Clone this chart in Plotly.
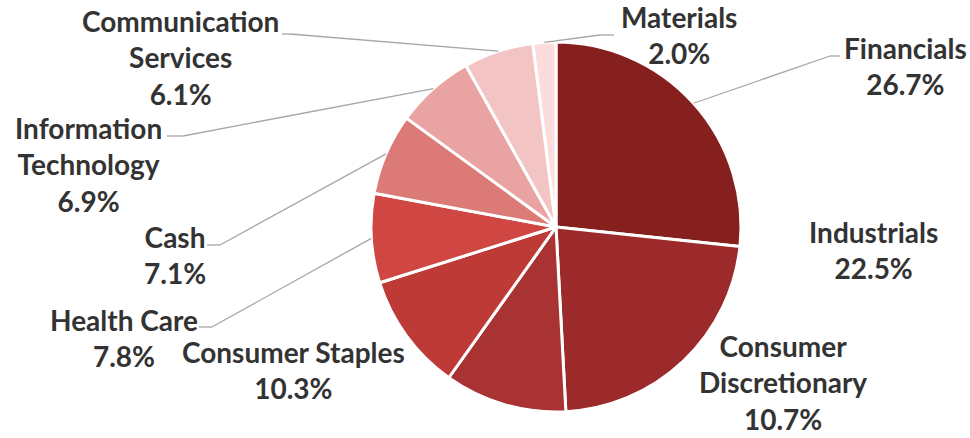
import math
import plotly.graph_objects as go

# ---- data ----
sectors = ["Financials", "Industrials", "Consumer Discretionary", "Consumer Staples",
           "Health Care", "Cash", "Information Technology", "Communication Services", "Materials"]
weights = [26.7, 22.5, 10.7, 10.3, 7.8, 7.1, 6.9, 6.1, 2.0]
label_text = ["Financials", "Industrials", "Consumer<br>Discretionary", "Consumer Staples",
              "Health Care", "Cash", "Information<br>Technology", "Communication<br>Services", "Materials"]
colors = ["#85201F", "#9C2A2A", "#A93232", "#BD3A37", "#CF4642",
          "#DB7A77", "#E8A3A2", "#F3C4C4", "#FCDCDC"]

W, H = 970, 438
CX, CY, R = 556, 227, 185

def px(x):
    return x / W

def py(y):
    return 1 - y / H

# label block centres (pixels)
label_pos = {
    "Financials": (905, 66),
    "Industrials": (873, 250),
    "Consumer Discretionary": (783, 382),
    "Consumer Staples": (293, 370),
    "Health Care": (124, 338),
    "Cash": (175, 255),
    "Information Technology": (88, 165),
    "Communication Services": (180, 58),
    "Materials": (679, 35),
}
# leader line starts and elbows (pixels)
leaders = {
    "Financials": [(840, 56), (830, 56)],
    "Health Care": [(199, 327), (212, 327)],
    "Cash": [(207, 245), (220, 245)],
    "Information Technology": [(167, 136), (183, 136)],
    "Communication Services": [(282, 34), (290, 34)],
    "Materials": [(614, 35), (600, 35)],
}

fig = go.Figure(go.Pie(
    labels=sectors, values=weights, sort=False, direction="clockwise", rotation=0,
    marker=dict(colors=colors, line=dict(color="white", width=3)),
    textinfo="none", hoverinfo="label+percent", showlegend=False,
    domain=dict(x=[px(CX - R), px(CX + R)], y=[py(CY + R), py(CY - R)]),
))

total = sum(weights)
cum = 0.0
annotations = []
shapes = []
for name, v, txt in zip(sectors, weights, label_text):
    mid = (cum + v / 2) / total * 2 * math.pi
    cum += v
    ax = CX + R * math.sin(mid)
    ay = CY - R * math.cos(mid)
    lx, ly = label_pos[name]
    annotations.append(dict(
        x=px(lx), y=py(ly), xref="paper", yref="paper", xanchor="center", yanchor="middle",
        text=f"{txt}<br>{v:.1f}%", showarrow=False, align="center", borderpad=0,
        font=dict(family="Lato", size=28, color="#333333", weight="bold"),
    ))
    if name in leaders:
        (x0, y0), (x1, y1) = leaders[name]
        for a, b in [((x0, y0), (x1, y1)), ((x1, y1), (ax, ay))]:
            shapes.append(dict(type="line", xref="paper", yref="paper",
                               x0=px(a[0]), y0=py(a[1]), x1=px(b[0]), y1=py(b[1]),
                               line=dict(color="#A6A6A6", width=1.3)))

fig.update_layout(
    width=W, height=H, margin=dict(l=0, r=0, t=0, b=0),
    paper_bgcolor="white", plot_bgcolor="white",
    annotations=annotations, shapes=shapes,
)
fig.write_html("out.html", config={"displayModeBar": False},
               post_script="document.body.style.margin='0';document.body.style.overflow='hidden';")
